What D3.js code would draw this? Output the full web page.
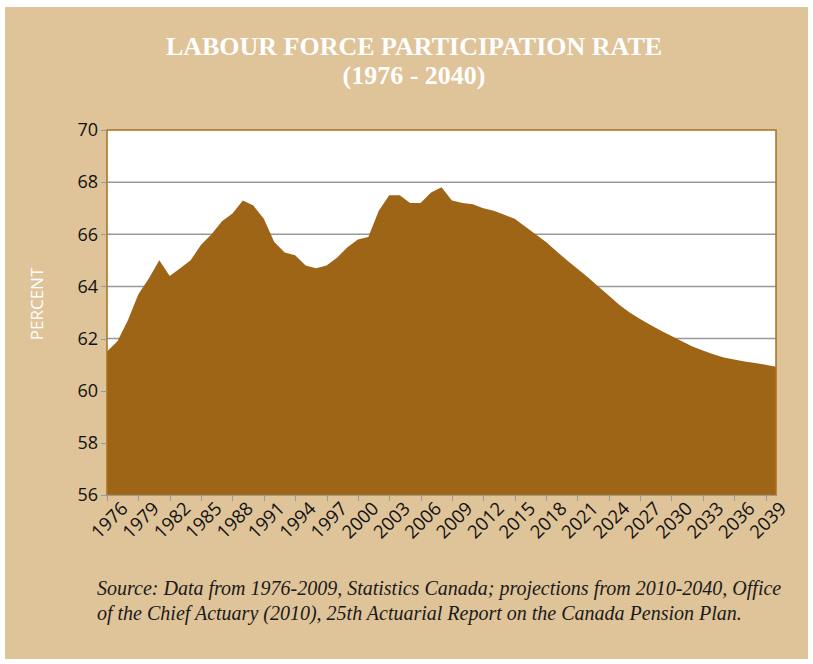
<!DOCTYPE html>
<head>
<meta charset="utf-8">
<title>Labour Force Participation Rate</title>
<script src="https://cdn.jsdelivr.net/npm/d3@7/dist/d3.min.js"></script>
<style>
	body { margin: 0; background: #fff; }
	.axis text { font: 18px "Open Sans", sans-serif; fill: #111; }
	.xaxis text { font-size: 18.5px; }
	.axis path, .axis line { fill: none; stroke: #999; shape-rendering: crispEdges; }
</style>
</head>
<body>
<script>
var width = 813;
var height = 664;
var margin = {top: 130, right: 37, bottom: 169, left: 107};

// data: participation rate (%) 1976-2040
var years = d3.range(1976, 2041);
var rates = [
	61.5, 61.9, 62.7, 63.7, 64.3, 65.0, 64.4, 64.7, 65.0, 65.6,
	66.0, 66.5, 66.8, 67.3, 67.1, 66.6, 65.7, 65.3, 65.2, 64.8,
	64.7, 64.8, 65.1, 65.5, 65.8, 65.9, 66.9, 67.5, 67.5, 67.2,
	67.2, 67.6, 67.8, 67.3, 67.2, 67.15, 67.0, 66.9, 66.75, 66.6,
	66.3, 66.0, 65.7, 65.35, 65.0, 64.68, 64.35, 64.0, 63.65, 63.3,
	63.0, 62.75, 62.52, 62.3, 62.1, 61.9, 61.7, 61.54, 61.4, 61.27,
	61.2, 61.12, 61.06, 61.0, 60.92
];
var yTicks = [56, 58, 60, 62, 64, 66, 68, 70];
var xTicks = d3.range(1976, 2040, 3);
var dataset = years.map(function(y, i) { return {year: y, rate: rates[i]}; });

var svg = d3.select('body').append('svg')
	.attr('width', width)
	.attr('height', height);

// tan panel
svg.append('rect')
	.attr('x', 5).attr('y', 7)
	.attr('width', 803).attr('height', 652)
	.style('fill', '#dfc399');

var xScale = d3.scaleLinear().domain([1976, 2040]).range([margin.left, width - margin.right]);
var yScale = d3.scaleLinear().domain([56, 70]).range([height - margin.bottom, margin.top]);

// plot background
svg.append('rect')
	.attr('x', margin.left).attr('y', margin.top)
	.attr('width', xScale(2040) - margin.left)
	.attr('height', yScale(56) - margin.top)
	.style('fill', '#fff');

// gridlines
svg.append('g').selectAll('line').data(yTicks.slice(1, -1)).enter()
	.append('line')
	.attr('x1', margin.left).attr('x2', xScale(2040))
	.attr('y1', function(d) { return yScale(d); })
	.attr('y2', function(d) { return yScale(d); })
	.style('stroke', '#999').style('stroke-width', 1.5);

// area
var area = d3.area()
	.x(function(d) { return xScale(d.year); })
	.y0(yScale(56))
	.y1(function(d) { return yScale(d.rate); });

svg.append('path')
	.datum(dataset)
	.attr('d', area)
	.style('fill', '#9e6517');

// plot border
svg.append('rect')
	.attr('x', margin.left).attr('y', margin.top)
	.attr('width', xScale(2040) - margin.left)
	.attr('height', yScale(56) - margin.top)
	.style('fill', 'none')
	.style('stroke', '#a8701f')
	.style('stroke-width', 1.5);

// axes
var yAxis = svg.append('g')
	.attr('class', 'axis')
	.attr('transform', 'translate(' + margin.left + ',0)')
	.call(d3.axisLeft(yScale).tickValues(yTicks).tickSize(6).tickPadding(3));
yAxis.select('.domain').remove();

var xAxis = svg.append('g')
	.attr('class', 'axis xaxis')
	.attr('transform', 'translate(0,' + yScale(56) + ')')
	.call(d3.axisBottom(xScale).tickValues(xTicks).tickFormat(d3.format('d')).tickSize(6).tickSizeOuter(0));
xAxis.selectAll('text')
	.attr('text-anchor', 'end')
	.attr('dx', '0.25em')
	.attr('dy', '0.9em')
	.attr('transform', 'rotate(-45)');

// y label
svg.append('text')
	.attr('transform', 'translate(43,' + 304 + ') rotate(-90)')
	.attr('text-anchor', 'middle')
	.style('font', '17px "Open Sans", sans-serif')
	.style('fill', '#fff')
	.text('PERCENT');

// title
var title = svg.append('text')
	.attr('text-anchor', 'middle')
	.style('font', 'bold 26px "Liberation Serif", serif')
	.style('fill', '#fff');
title.append('tspan').attr('x', 414).attr('y', 55).text('LABOUR FORCE PARTICIPATION RATE');
title.append('tspan').attr('x', 414).attr('y', 84).text('(1976 - 2040)');

// source note
var note = svg.append('text')
	.style('font', 'italic 20px "Liberation Serif", serif')
	.style('fill', '#1a1a1a');
note.append('tspan').attr('x', 97).attr('y', 595)
	.text('Source: Data from 1976-2009, Statistics Canada; projections from 2010-2040, Office');
note.append('tspan').attr('x', 97).attr('y', 620)
	.text('of the Chief Actuary (2010), 25th Actuarial Report on the Canada Pension Plan.');
</script>
</body>
